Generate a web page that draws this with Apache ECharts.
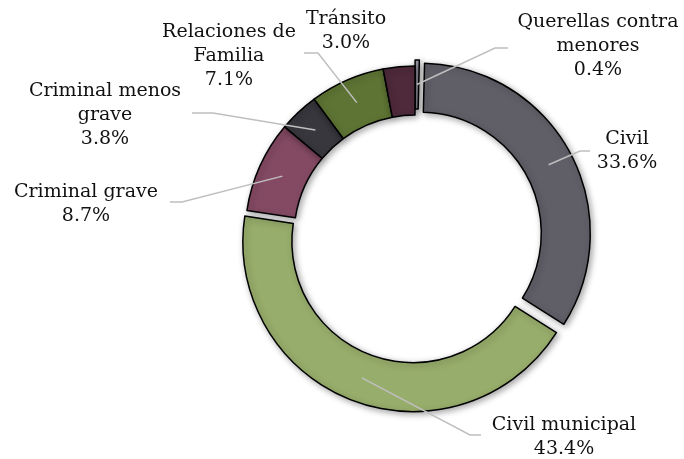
<!DOCTYPE html>
<html>
<head>
<meta charset="utf-8">
<script src="https://cdn.jsdelivr.net/npm/echarts@6/dist/echarts.min.js"></script>
<style>
html,body{margin:0;padding:0;background:#fff;}
#chart{width:684px;height:459px;}
</style>
</head>
<body>
<div id="chart"></div>
<script>
// ---- data ----
const categories = ['Querellas contra menores', 'Civil', 'Civil municipal', 'Criminal grave', 'Criminal menos grave', 'Relaciones de Familia', 'Tránsito'];
const labelNames = ['Querellas contra\nmenores', 'Civil', 'Civil municipal', 'Criminal grave', 'Criminal menos\ngrave', 'Relaciones de\nFamilia', 'Tránsito'];
const values = [0.4, 33.6, 43.4, 8.7, 3.8, 7.1, 3.0];
const exploded = [true, true, true, false, false, false, false];

// ---- styling / layout ----
const colors = ['#9d9eab', '#605f68', '#97ad6b', '#844a63', '#38373d', '#5e7434', '#4e2a3a'];
const CX = 415, CY = 236, R0 = 121, R1 = 170, OFF = 6;
const labelPos = [[598, 46], [627, 151], [564, 437], [86, 204], [105, 115], [229, 56], [346, 31]];
const lineEnds = [[[495, 48], [508, 48]], [[580, 151], [590, 151]], [[470, 435], [481, 435]], [[182, 202], [170, 202]], [[213, 113], [192, 113]], [[318, 53], [304, 53]], null];

const total = values.reduce((a, b) => a + b, 0);
const midAngles = [];
let cum = 0;
values.forEach(v => { midAngles.push((cum + v / 2) / total * 2 * Math.PI); cum += v; });

const base = {
  type: 'pie',
  center: [CX, CY],
  radius: [R0, R1],
  startAngle: 90,
  clockwise: true,
  avoidLabelOverlap: false,
  emphasis: {disabled: true}
};

const chart = echarts.init(document.getElementById('chart'), null, {renderer: 'canvas'});
const option = {
  animation: false,
  backgroundColor: '#ffffff',
  series: [
    Object.assign({}, base, {
      z: 2,
      selectedMode: 'multiple',
      selectedOffset: OFF,
      itemStyle: {
        borderColor: '#000000',
        borderWidth: 1.5,
        shadowBlur: 6,
        shadowColor: 'rgba(0,0,0,0.35)',
        shadowOffsetX: 2,
        shadowOffsetY: 2
      },
      label: {show: false},
      labelLine: {show: false},
      data: categories.map((c, i) => ({
        name: c, value: values[i], selected: exploded[i], itemStyle: {color: colors[i]}
      }))
    }),
    Object.assign({}, base, {
      z: 5,
      silent: true,
      selectedMode: false,
      itemStyle: {color: 'rgba(0,0,0,0)', borderWidth: 0},
      label: {
        show: true,
        position: 'outside',
        fontFamily: 'DejaVu Serif',
        fontSize: 19,
        lineHeight: 24,
        color: '#111111',
        align: 'center',
        width: 220,
        overflow: 'none',
        formatter: p => labelNames[p.dataIndex] + '\n' + values[p.dataIndex].toFixed(1) + '%'
      },
      labelLine: {show: true, lineStyle: {color: '#bfbfbf', width: 1.5}},
      labelLayout: function (params) {
        const i = params.dataIndex;
        const a = midAngles[i];
        const off = exploded[i] ? OFF : 0;
        const cx = CX + off * Math.sin(a), cy = CY - off * Math.cos(a);
        const rm = (R0 + R1) / 2;
        const start = [cx + rm * Math.sin(a), cy - rm * Math.cos(a)];
        const res = {x: labelPos[i][0], y: labelPos[i][1], align: 'center', verticalAlign: 'middle'};
        if (lineEnds[i]) res.labelLinePoints = [start, lineEnds[i][0], lineEnds[i][1]];
        return res;
      },
      data: categories.map((c, i) => ({
        name: c, value: values[i],
        labelLine: {show: lineEnds[i] !== null}
      }))
    })
  ]
};
chart.setOption(option);
</script>
</body>
</html>
